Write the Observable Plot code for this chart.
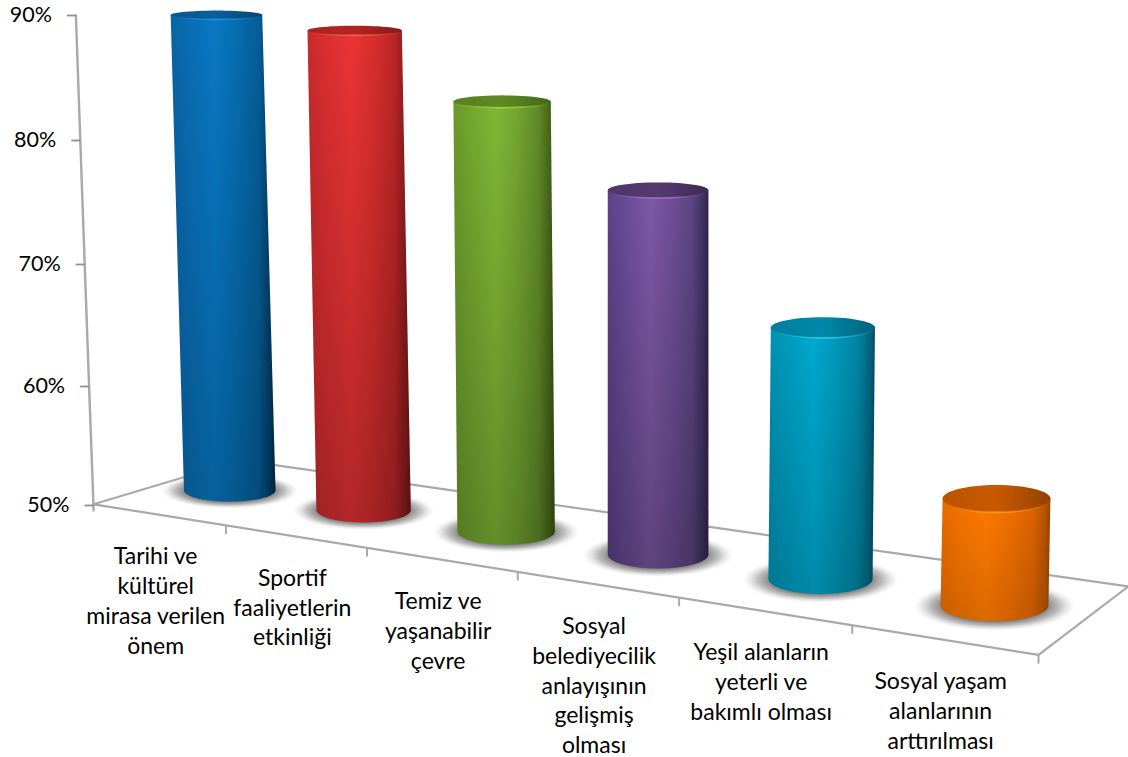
<!DOCTYPE html>
<html><head><meta charset="utf-8">
<script src="https://cdn.jsdelivr.net/npm/d3@7"></script>
<script src="https://cdn.jsdelivr.net/npm/@observablehq/plot@0.6"></script>
<style>html,body{margin:0;padding:0;background:#fff}svg{display:block}</style>
</head><body><div id="chart"></div>
<script>
// ---- data
const categories = ["Tarihi ve\nkültürel\nmirasa verilen\nönem","Sportif\nfaaliyetlerin\netkinliği","Temiz ve\nyaşanabilir\nçevre","Sosyal\nbelediyecilik\nanlayışının\ngelişmiş\nolması","Yeşil alanların\nyeterli ve\nbakımlı olması","Sosyal yaşam\nalanlarının\narttırılması"];
const values = [89.8, 89.0, 84.0, 78.0, 68.8, 57.6];
const yTicks = [50, 60, 70, 80, 90];
// ---- styles
const palettes = [
 {cap:"#0b5e9a",rim:"#1a90d8",shadeLow:.2,side:["#0b62a2","#0a6cb2","#0879c4","#066eb2","#045e98","#023e68","#012b4a"]},
 {cap:"#b32424",rim:"#ff5a50",shadeLow:.24,side:["#c62a2c","#d92e30","#ea3434","#dc2e2e","#bc2626","#8a1c1e","#6e1618"]},
 {cap:"#5f8a22",rim:"#9ad040",shadeLow:.22,side:["#69982a","#72a52e","#80b636","#74a630","#608a28","#466618","#384f12"]},
 {cap:"#553a70",rim:"#9a70c8",shadeLow:.24,side:["#5c4188","#684a96","#7e58a6","#704f98","#5c4482","#3f3060","#30244a"]},
 {cap:"#0088a8",rim:"#30c8e8",shadeLow:.18,side:["#008fb0","#0099bc","#00a9cf","#009abd","#0084a4","#00647e","#004c62"]},
 {cap:"#c95900",rim:"#ff9a20",shadeLow:.14,side:["#e86a00","#f27200","#ff7a00","#f27000","#dc6400","#b85400","#984400"]}
];
// ---- pseudo-3D floor: corners in (x, axis-percent) scale units
const floorCorners = [[93,50.1],[1038,37.8],[1128,43.4],[240,53.8]];
const sectionCount = categories.length, cylinderDepth = 0.5;
const vanishX = 657, vanishRise = 1282;
const homography = (() => {
  const [[x0,y0],[x1,y1],[x2,y2],[x3,y3]] = floorCorners;
  const dx1=x1-x2,dx2=x3-x2,dx3=x0-x1+x2-x3,dy1=y1-y2,dy2=y3-y2,dy3=y0-y1+y2-y3;
  const den=dx1*dy2-dx2*dy1, g=(dx3*dy2-dx2*dy3)/den, h=(dx1*dy3-dx3*dy1)/den;
  const a=x1-x0+g*x1,b=x3-x0+h*x3,d=y1-y0+g*y1,e=y3-y0+h*y3;
  return (u,t) => {const s=u/sectionCount,w=g*s+h*t+1;return {x:(a*s+b*t+x0)/w,y:(d*s+e*t+y0)/w,w};};
})();
const lean = (x, rise) => x - (vanishX - x) * rise / vanishRise;

const floorPath = [[0,0],[6,0],[6,1],[0,1],[0,0]].map(([u,t]) => homography(u,t));
const sectionTicks = d3.range(1, sectionCount+1).map(u => { const p=homography(u,0); return {x:p.x,y1:p.y,y2:p.y-0.7}; });
const labelRows = categories.map((text,i) => ({text, ...homography(i+.5,0)}));
const axisBase = homography(0,0);
const axisRows = yTicks.map(v => ({v, x:lean(axisBase.x, v-50)}));
const axisLine = [{x:axisBase.x,y:49.6},...axisRows.map(r=>({x:r.x,y:r.v}))];

const angles = d3.range(0,361,6).map(a => a*Math.PI/180);
const frontAngles = d3.range(0,181,6).map(a => a*Math.PI/180);
const flat = lvl => 0.09 + 0.00034*(505-(lvl-50)*12.25);
const ring = (cx,lvl,hw,hh,list) => list.map(a => ({x:cx+hw*Math.cos(a), y:lvl-hh*Math.sin(a)}));
const cylinders = values.map((v,i) => {
  const f = homography(i+.47+.006*i, cylinderDepth), size = 1/f.w;
  const hw = 47*size;
  const lvlB = f.y, rise = v-50, lvlT = lvlB + rise*size, xT = lean(f.x, rise);
  const hhB = hw*flat(lvlB)/12.25, hhT = hw*flat(lvlT)/12.25;
  return {
    side:[...ring(xT,lvlT,hw,hhT,[Math.PI,0]),...ring(f.x,lvlB,hw,hhB,frontAngles)],
    sideRim:ring(xT,lvlT,hw,hhT,frontAngles),
    cap:ring(xT,lvlT,hw,hhT,angles),
    shadow:ring(f.x,lvlB-hhB*0.05,hw*1.5,hhB*1.55,angles)
  };
});

const sideMarks = cylinders.flatMap((c,i) => [
  Plot.line(c.shadow,{x:"x",y:"y",stroke:"none",fill:"url(#shadow)"}),
  Plot.line(c.side,{x:"x",y:"y",stroke:"none",fill:`url(#side${i})`}),
  Plot.line(c.side,{x:"x",y:"y",stroke:"none",fill:`url(#down${i})`}),
  Plot.line(c.cap,{x:"x",y:"y",stroke:"none",fill:`url(#cap${i})`}),
  Plot.line(c.sideRim,{x:"x",y:"y",fill:"none",stroke:`url(#rim${i})`,strokeWidth:1.6})
]);

const chart = Plot.plot({
  width:1128, height:757, margin:0,
  style:{background:"#fff",fontFamily:"Lato, sans-serif"},
  x:{axis:null,type:"linear",domain:[0,1128],range:[0,1128]},
  y:{axis:null,type:"linear",domain:[29.43,50,60,70,80,90,91.2],range:[757,505,386,264,140,15,0]},
  marks:[
    Plot.line(floorPath,{x:"x",y:"y",stroke:"#a9a9a9",strokeWidth:2.2}),
    Plot.link(sectionTicks,{x1:"x",x2:"x",y1:"y1",y2:"y2",stroke:"#a9a9a9",strokeWidth:2}),
    Plot.line(axisLine,{x:"x",y:"y",stroke:"#a9a9a9",strokeWidth:2.4}),
    Plot.link(axisRows,{x1:d=>d.x-9,x2:"x",y1:"v",y2:"v",stroke:"#8f8f8f",strokeWidth:1.8}),
    Plot.text(axisRows,{x:"x",y:"v",dx:-24,text:d=>`${d.v}%`,textAnchor:"end",fontSize:21.5,fill:"#000"}),
    ...sideMarks,
    Plot.text(labelRows,{x:"x",y:"y",dx:-3,dy:28,text:"text",lineAnchor:"top",lineHeight:1.3,fontSize:23,fill:"#000"})
  ]
});
// ---- gradients used by the marks
const defs = d3.select(chart).insert("defs",":first-child");
const rad = defs.append("radialGradient").attr("id","shadow");
[[0,"#6f6f6f",1],[.62,"#7a7a7a",1],[.8,"#a8a8a8",.75],[1,"#d8d8d8",0]].forEach(([o,c,a])=>rad.append("stop").attr("offset",o).attr("stop-color",c).attr("stop-opacity",a));
const offs=[0,.15,.42,.62,.84,.95,1];
palettes.forEach((p,i)=>{
  const s=defs.append("linearGradient").attr("id",`side${i}`);
  p.side.forEach((c,k)=>s.append("stop").attr("offset",offs[k]).attr("stop-color",c));
  const d=defs.append("linearGradient").attr("id",`down${i}`).attr("x1",0).attr("x2",0).attr("y1",0).attr("y2",1);
  d.append("stop").attr("offset",0).attr("stop-color","#000").attr("stop-opacity",0);
  d.append("stop").attr("offset",1).attr("stop-color","#000").attr("stop-opacity",p.shadeLow);
  const c=defs.append("linearGradient").attr("id",`cap${i}`);
  [[0,.95],[.5,1],[1,.78]].forEach(([o,k])=>c.append("stop").attr("offset",o).attr("stop-color",d3.rgb(p.cap).darker((1-k)*4)));
  const r=defs.append("linearGradient").attr("id",`rim${i}`);
  [[0,0],[.35,.8],[.5,1],[.65,.8],[1,0]].forEach(([o,a])=>r.append("stop").attr("offset",o).attr("stop-color",p.rim).attr("stop-opacity",a));
});
document.getElementById("chart").appendChild(chart);
</script></body></html>
